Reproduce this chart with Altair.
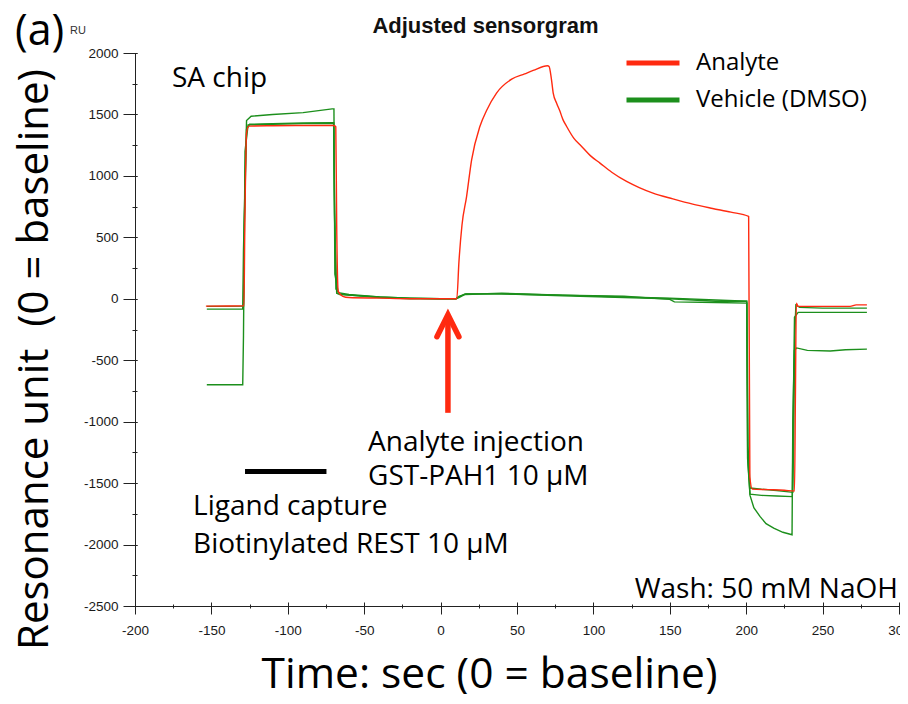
import altair as alt
import pandas as pd

# ---------------- data ----------------
analyte_t = [-153.6, -128.7, -128.2, -127.0, -125.5, -110, -90, -70, -68.6, -68.0, -67.0,
             -64, -60, -40, -20, 0, 10.6, 12.0, 14.0, 17.0, 20.3, 25.7, 30.0, 36.6, 46.5,
             55.0, 60.6, 70.0, 71.0, 72.5, 73.7, 76.0, 78.0, 80.0, 82.5, 87.0, 92.3, 98.0,
             104.3, 112.0, 121.7, 130.0, 139.0, 152.0, 165.0, 178.0, 190.0, 201.6, 202.4,
             204.0, 215.0, 225.0, 231.6, 232.2, 232.8, 234.0, 250.0, 268.0, 272.0, 279.0]
analyte_ru = [-60, -57, 500, 1350, 1405, 1408, 1410, 1410, 1400, 600, 60,
              20, 10, 5, 0, 0, 0, 300, 600, 832, 1131, 1402, 1530, 1674, 1787,
              1830, 1858, 1896, 1890, 1790, 1674, 1590, 1530, 1460, 1402, 1310, 1240, 1165,
              1104, 1030, 955, 905, 860, 813, 770, 735, 705, 670, -1450,
              -1549, -1553, -1558, -1565, -800, -35, -62, -62, -62, -50, -50]

veh1_t = [-153.0, -129.0, -128.5, -127.0, -125.0, -110, -90, -70, -69.5, -68.5, -66,
          -60, -50, -40, -30, -20, 0, 10, 12, 17, 40, 60, 80, 100, 120, 150, 153,
          180, 200.5, 201.2, 202.5, 210, 220, 230.5, 231.0, 231.8, 232.5, 235, 250, 270, 279]
veh1_ru = [-62, -60, 600, 1380, 1420, 1425, 1430, 1432, 900, 80, 40,
           30, 20, 10, 5, 0, 0, 0, 20, 40, 40, 35, 30, 25, 20, -5, -25,
           -30, -35, -1200, -1540, -1550, -1560, -1575, -1200, -300, -50, -70, -76, -76, -76]

veh2_t = [-153.0, -129.5, -129.0, -127.0, -124.0, -110, -90, -71, -69.8, -69.2, -67,
          -60, -50, -40, -20, 0, 10, 12, 16, 40, 80, 120, 150, 180, 200.4, 201.0,
          202.5, 210, 220, 230.2, 230.8, 231.6, 234, 250, 279]
veh2_ru = [-84, -84, 400, 1450, 1485, 1500, 1515, 1545, 1545, 200, 50,
           35, 25, 15, 5, 0, 0, 15, 40, 40, 25, 10, 0, -20, -20, -1300,
           -1590, -1600, -1605, -1610, -900, -150, -111, -111, -111]

veh3_t = [-153.0, -129.5, -129.0, -128.0, -126.0, -110, -90, -70, -69.5, -68, -66,
          -60, -40, -20, 0, 10, 12, 16, 40, 80, 120, 150, 180, 200.3, 200.9, 202.5,
          205, 209, 213, 218, 224, 230.0, 230.5, 231.5, 233, 240, 255, 265, 279]
veh3_ru = [-700, -700, -300, 1200, 1415, 1420, 1425, 1428, 700, 45, 35,
           30, 15, 5, 0, 0, 10, 35, 45, 30, 15, 5, -10, -20, -1300, -1600,
           -1700, -1771, -1830, -1866, -1900, -1920, -1000, -420, -400, -420, -425, -415, -410]

series_names = ["Analyte", "Vehicle (DMSO)"]
x_major_ticks = [-200, -150, -100, -50, 0, 50, 100, 150, 200, 250, 300]
x_minor_ticks = list(range(-200, 301, 25))
y_major_ticks = [-2500, -2000, -1500, -1000, -500, 0, 500, 1000, 1500, 2000]
y_minor_ticks = list(range(-2500, 2001, 250))

capture_bar_t = [-128.0, -74.7]
capture_bar_ru = -1405
arrow_t = 4.8
arrow_tail_ru = -928
arrow_tip_ru = -130

annot_left_text = ["SA chip", "Analyte injection", "GST-PAH1 10 µM",
                   "Ligand capture", "Biotinylated REST 10 µM"]
annot_left_t = [-175.8, -47.5, -47.5, -162.0, -162.0]
annot_left_ru = [1725, -1241, -1518, -1758, -2071]
annot_right_text = ["Wash: 50 mM NaOH"]
annot_right_t = [299.3]
annot_right_ru = [-2433]

# ---------------- tables ----------------
def run_df(t, ru, run, sample):
    return pd.DataFrame({"time": t, "ru": ru, "run": run, "sample": sample})

green_df = pd.concat([
    run_df(veh3_t, veh3_ru, "veh3", series_names[1]),
    run_df(veh2_t, veh2_ru, "veh2", series_names[1]),
    run_df(veh1_t, veh1_ru, "veh1", series_names[1]),
], ignore_index=True)
red_df = run_df(analyte_t, analyte_ru, "analyte", series_names[0])

RED = "#ff2a10"
GREEN = "#1c8f1c"
TXT_FONT = "Open Sans"
AX_FONT = "Liberation Sans"
LABEL_EXPR = "datum.value + ''"

xs = alt.Scale(domain=[-200, 300], nice=False, zero=False)
ys = alt.Scale(domain=[-2500, 2000], nice=False, zero=False)
cs = alt.Scale(domain=series_names, range=[RED, GREEN])

legend = alt.Legend(orient="none", legendX=489, legendY=-2, title=None,
                    symbolType="stroke", symbolStrokeWidth=5, symbolSize=2809,
                    clipHeight=24, rowPadding=13, labelOffset=14, padding=0,
                    labelFont=TXT_FONT, labelFontSize=24, labelColor="black",
                    labelLimit=400)

x_major = alt.Axis(orient="bottom", values=x_major_ticks, labelExpr=LABEL_EXPR, offset=-4,
                   tickSize=12, domain=False, grid=False, labelFont=AX_FONT,
                   labelFontSize=13.5, labelColor="#1a1a1a", labelPadding=9,
                   tickColor="#222", labelFlush=False, labelOverlap=False,
                   title="Time: sec (0 = baseline)", titleFont=TXT_FONT,
                   titleFontSize=42.5, titleFontWeight="normal", titleColor="black",
                   titleX=354, titleY=85, titleAlign="center",
                   titleBaseline="alphabetic")
y_major = alt.Axis(orient="left", values=y_major_ticks, labelExpr=LABEL_EXPR, offset=-2,
                   tickSize=14, domain=False, grid=False, labelFont=AX_FONT,
                   labelFontSize=13.5, labelColor="#1a1a1a", labelPadding=5,
                   tickColor="#222", labelFlush=False, labelOverlap=False,
                   title="Resonance unit\u00a0 (0 = baseline)", titleFont=TXT_FONT,
                   titleFontSize=42, titleFontWeight="normal", titleColor="black",
                   titleX=-90, titleY=306, titleAlign="center", titleAngle=270,
                   titleBaseline="alphabetic")
x_minor = alt.Axis(orient="bottom", values=x_minor_ticks, offset=-2, tickSize=4,
                   domain=False, labels=False, grid=False, title=None, tickColor="#222")
y_minor = alt.Axis(orient="left", values=y_minor_ticks, offset=-2, tickSize=5,
                   domain=False, labels=False, grid=False, title=None, tickColor="#222")
x_dom = alt.Axis(orient="bottom", domain=True, ticks=False, labels=False, grid=False,
                 title=None, domainColor="#222")
y_dom = alt.Axis(orient="left", domain=True, ticks=False, labels=False, grid=False,
                 title=None, domainColor="#222")

green = alt.Chart(green_df).mark_line(strokeWidth=1.4).encode(
    x=alt.X("time:Q", scale=xs, axis=x_major),
    y=alt.Y("ru:Q", scale=ys, axis=y_major),
    color=alt.Color("sample:N", scale=cs, legend=legend),
    detail="run:N",
    order="index:Q",
).transform_window(index="row_number()", groupby=["run"])

red = alt.Chart(red_df).mark_line(strokeWidth=1.4, interpolate="monotone").encode(
    x=alt.X("time:Q", scale=xs, axis=None),
    y=alt.Y("ru:Q", scale=ys, axis=None),
    color=alt.Color("sample:N", scale=cs, legend=legend),
    detail="run:N",
    order="index:Q",
).transform_window(index="row_number()", groupby=["run"])

bar_df = pd.DataFrame({"t0": [capture_bar_t[0]], "t1": [capture_bar_t[1]],
                       "ru": [capture_bar_ru]})
bar = alt.Chart(bar_df).mark_rule(strokeWidth=5, color="black").encode(
    x=alt.X("t0:Q", scale=xs, axis=x_minor),
    x2="t1:Q",
    y=alt.Y("ru:Q", scale=ys, axis=y_minor),
)

arrow_df = pd.DataFrame({"t": [arrow_t], "tail": [arrow_tail_ru], "tip": [arrow_tip_ru],
                         "shaft_top": [arrow_tip_ru - 15]})
shaft = alt.Chart(arrow_df).mark_rule(strokeWidth=5.5, color=RED).encode(
    x=alt.X("t:Q", scale=xs, axis=x_dom),
    y=alt.Y("tail:Q", scale=ys, axis=y_dom),
    y2="shaft_top:Q",
)
head = alt.Chart(arrow_df).mark_point(shape="M -1 2 L 0 0 L 1 2", filled=False,
                                      size=484, strokeWidth=5.5, color=RED,
                                      opacity=1, strokeCap="round").encode(
    x=alt.X("t:Q", scale=xs, axis=None),
    y=alt.Y("tip:Q", scale=ys, axis=None),
)

left_df = pd.DataFrame({"text": annot_left_text, "t": annot_left_t, "ru": annot_left_ru})
left_txt = alt.Chart(left_df).mark_text(align="left", baseline="alphabetic",
                                        font=TXT_FONT, fontSize=28, color="black").encode(
    x=alt.X("t:Q", scale=xs, axis=None),
    y=alt.Y("ru:Q", scale=ys, axis=None),
    text="text:N",
)
right_df = pd.DataFrame({"text": annot_right_text, "t": annot_right_t, "ru": annot_right_ru})
right_txt = alt.Chart(right_df).mark_text(align="right", baseline="alphabetic",
                                          font=TXT_FONT, fontSize=28, color="black").encode(
    x=alt.X("t:Q", scale=xs, axis=None),
    y=alt.Y("ru:Q", scale=ys, axis=None),
    text="text:N",
)

lab_df = pd.DataFrame({"a": [0]})
panel = alt.Chart(lab_df).mark_text(align="left", baseline="alphabetic", font=TXT_FONT,
                                    fontSize=43, color="black", text="(a)").encode(
    x=alt.value(-120), y=alt.value(-8))
ru_lab = alt.Chart(lab_df).mark_text(align="left", baseline="alphabetic", font=AX_FONT,
                                     fontSize=11, color="#333", text="RU").encode(
    x=alt.value(-65), y=alt.value(-19.5))
title = alt.Chart(lab_df).mark_text(align="center", baseline="alphabetic", font=AX_FONT,
                                    fontSize=22, fontWeight="bold", color="#111",
                                    text="Adjusted sensorgram").encode(
    x=alt.value(350.5), y=alt.value(-20))

chart = alt.layer(
    green, red, bar, shaft, head, left_txt, right_txt, panel, ru_lab, title
).resolve_axis(x="independent", y="independent").properties(
    width=764, height=553,
    padding={"left": 127, "top": 45, "right": 1, "bottom": 88},
    autosize=alt.AutoSizeParams(type="none"),
).configure_view(stroke=None).configure_axis(grid=False)

chart.save("out.html", embed_options={"renderer": "svg", "actions": False})
